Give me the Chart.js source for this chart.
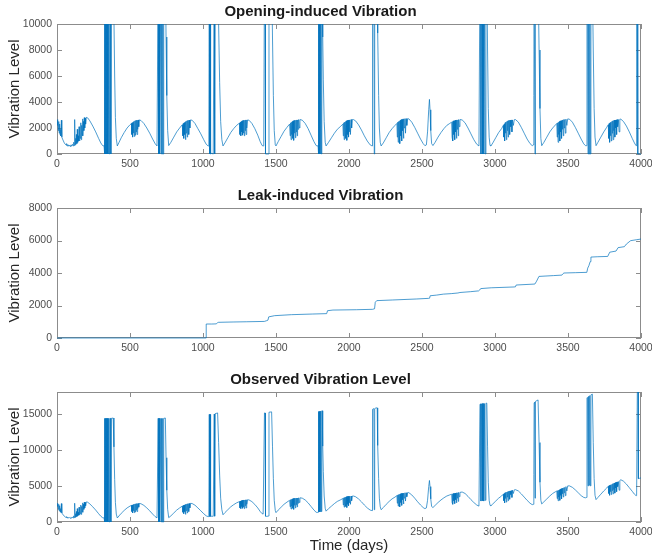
<!DOCTYPE html>
<html>
<head>
<meta charset="utf-8">
<script src="https://cdn.jsdelivr.net/npm/chart.js@4.4.1/dist/chart.umd.min.js"></script>
<style>
  body { margin: 0; background: #fff; }
  #wrap { position: relative; width: 652px; height: 556px; overflow: hidden; }
  .box { position: absolute; left: 0; width: 652px; }
</style>
</head>
<body>
<div id="wrap">
  <div class="box" style="top:0px;height:176px"><canvas id="c1"></canvas></div>
  <div class="box" style="top:184px;height:176px"><canvas id="c2"></canvas></div>
  <div class="box" style="top:368px;height:188px"><canvas id="c3"></canvas></div>
</div>
<script>
// tick labels
const dayTicks = [0,500,1000,1500,2000,2500,3000,3500,4000];
const openingTicks = [0,2000,4000,6000,8000,10000];
const leakTicks = [0,2000,4000,6000,8000];
const observedTicks = [0,5000,10000,15000];

// [day, vibration level]
const openingData = [
  [0,2550],[3,2200],[6,2650],[9,1800],[12,2500],[15,1600],[18,2300],[21,1500],[24,1900],[27,1400],[30,2600],[33,1300],
  [38,1150],[44,1000],[50,850],[56,760],[62,680],[66,800],[70,620],[75,720],[80,600],[85,680],[90,580],[95,700],[100,600],
  [105,750],[110,620],[114,900],[118,650],[121,2650],[124,700],[127,1200],[130,750],[133,1500],[136,800],[139,1900],[142,900],
  [145,1400],[148,1000],[151,2100],[154,1000],[157,1700],[160,1200],[163,2400],[166,1100],[169,2200],[172,1500],[175,2700],
  [178,1400],[181,2500],[184,1800],[187,2800],[190,2000],[193,2750],[196,2300],[200,2820],[210,2780],[225,2550],[245,2150],
  [265,1700],[285,1200],[300,850],[312,650],[320,620],
  [322,650],[325,14400],[328,0],[331,14400],[334,0],[338,14400],[341,0],[344,14400],[347,0],[350,14400],[353,0],[356,14400],
  [359,0],[362,14400],[366,14400],[369,0],[372,14400],[385,14400],[390,10500],[395,6000],[400,2800],[406,1200],[413,620],
  [425,900],[440,1250],[460,1650],[480,2000],[500,2250],[510,2350],[512,1500],[515,2400],[518,1300],[521,2450],[524,1600],
  [527,2500],[530,1350],[533,2550],[536,1450],[539,2580],[542,1700],[545,2600],[548,1500],[551,2600],[554,1900],[557,2620],
  [560,2100],[563,2620],[575,2580],[595,2350],[615,2000],[635,1600],[655,1150],[672,800],[685,620],
  [690,620],[693,14400],[696,0],[700,14400],[703,0],[707,14400],[710,14400],[713,0],[716,14400],[720,0],[724,14400],[727,0],
  [731,14400],[742,14400],[747,9000],[752,4500],[758,1800],[765,650],
  [780,900],[800,1300],[820,1700],[840,2000],[858,2250],[862,1400],[865,2350],[868,1200],[871,2400],[874,1500],[877,2450],
  [880,1100],[883,2500],[886,1600],[889,2550],[892,1300],[895,2580],[898,1800],[901,2600],[904,1500],[907,2600],[910,2000],
  [914,2620],[925,2600],[945,2350],[965,1950],[985,1550],[1005,1100],[1022,750],[1035,620],
  [1040,640],[1043,14100],[1046,0],[1049,14100],[1052,0],[1060,50],[1070,0],[1077,14100],[1080,0],[1083,14100],[1100,14200],
  [1107,10000],[1114,5500],[1121,2500],[1129,1100],[1137,620],
  [1150,850],[1170,1250],[1190,1650],[1210,1950],[1230,2200],[1250,2380],[1253,1500],[1256,2450],[1259,1400],[1262,2500],
  [1265,1700],[1268,2550],[1271,1450],[1274,2580],[1277,1600],[1280,2600],[1283,1400],[1286,2600],[1289,1800],[1292,2620],
  [1295,1500],[1298,2620],[1301,2000],[1305,2620],[1315,2600],[1335,2350],[1355,1950],[1375,1450],[1392,950],[1405,650],[1412,620],
  [1416,640],[1421,13900],[1425,13900],[1428,0],[1438,0],[1447,0],[1452,13900],[1470,14000],[1476,9000],[1482,4500],
  [1488,1800],[1495,700],[1500,620],
  [1515,950],[1535,1350],[1555,1750],[1575,2050],[1593,2300],[1597,1400],[1600,2400],[1603,1100],[1606,2450],[1609,1500],
  [1612,2500],[1615,1200],[1618,2550],[1621,1050],[1624,2580],[1627,1600],[1630,2600],[1633,1250],[1636,2600],[1639,1700],
  [1642,2620],[1645,1400],[1648,2620],[1651,1900],[1655,2650],[1660,2000],[1664,2650],[1680,2600],[1700,2350],[1720,1950],
  [1740,1450],[1760,950],[1775,650],[1782,620],
  [1788,640],[1790,13800],[1793,0],[1796,13800],[1799,0],[1802,13800],[1805,0],[1808,13800],[1811,0],[1814,13800],[1817,13800],
  [1820,9000],[1824,5700],[1830,2500],[1837,900],[1843,620],
  [1860,900],[1880,1250],[1900,1600],[1920,1900],[1940,2100],[1958,2300],[1961,1400],[1964,2400],[1967,1100],[1970,2450],
  [1973,1600],[1976,2500],[1979,1200],[1982,2550],[1985,1050],[1988,2580],[1991,1500],[1994,2600],[1997,1300],[2000,2620],
  [2003,1700],[2006,2620],[2010,1500],[2014,2650],[2018,2000],[2023,2650],[2030,2650],[2045,2550],[2065,2250],[2085,1850],
  [2105,1400],[2125,1000],[2145,700],[2158,620],
  [2160,620],[2162,13400],[2170,13400],[2173,0],[2176,13400],[2185,13500],[2193,13500],[2195,9400],[2198,9300],[2203,4500],
  [2208,2000],[2214,900],[2220,620],
  [2235,850],[2255,1250],[2275,1650],[2295,1950],[2315,2200],[2328,2350],[2331,1300],[2334,2450],[2337,900],[2340,2500],
  [2343,1500],[2346,2550],[2349,800],[2352,2600],[2355,1400],[2358,2650],[2361,1000],[2364,2650],[2367,1800],[2370,2700],
  [2373,1200],[2376,2700],[2379,2000],[2383,2720],[2387,1600],[2391,2720],[2396,2200],[2402,2720],[2410,2700],[2430,2450],
  [2450,2050],[2470,1600],[2490,1150],[2508,800],[2520,640],[2530,700],[2538,1700],[2546,3400],[2551,4200],[2555,3400],
  [2560,1800],[2566,800],[2575,650],
  [2590,900],[2610,1300],[2630,1650],[2650,1950],[2670,2200],[2690,2350],[2703,2450],[2706,1300],[2709,2500],[2712,1000],
  [2715,2550],[2718,1500],[2721,2550],[2724,1100],[2727,2600],[2730,1700],[2733,2600],[2736,1200],[2739,2620],[2742,1900],
  [2745,2620],[2748,1400],[2751,2650],[2755,2100],[2760,2650],[2775,2620],[2795,2400],[2815,2000],[2835,1550],[2855,1100],
  [2875,750],[2890,620],
  [2897,14000],[2901,14000],[2904,0],[2908,14000],[2912,14000],[2915,0],[2919,14000],[2923,0],[2927,14000],[2931,14000],
  [2934,0],[2938,14000],[2944,14000],[2949,8000],[2954,3500],[2960,1300],[2966,650],[2972,620],
  [2985,850],[3005,1250],[3025,1650],[3045,1950],[3057,2200],[3060,1300],[3063,2300],[3066,1000],[3069,2400],[3072,1600],
  [3075,2450],[3078,1100],[3081,2500],[3084,1800],[3087,2550],[3090,1300],[3093,2580],[3096,2000],[3099,2600],[3102,1500],
  [3105,2600],[3108,2100],[3112,2620],[3116,1700],[3120,2620],[3126,2200],[3132,2640],[3140,2650],[3160,2450],[3180,2050],
  [3200,1600],[3220,1150],[3240,800],[3255,640],
  [3262,700],[3266,4500],[3268,13500],[3272,13500],[3274,0],[3277,13600],[3295,13600],[3302,8000],[3308,3500],[3314,1200],[3320,640],
  [3335,900],[3355,1300],[3375,1700],[3395,2000],[3415,2250],[3423,2350],[3426,1300],[3429,2400],[3432,900],[3435,2450],
  [3438,1500],[3441,2500],[3444,1000],[3447,2550],[3450,1700],[3453,2550],[3456,1200],[3459,2600],[3462,1900],[3465,2620],
  [3468,1400],[3471,2650],[3474,2000],[3478,2650],[3482,1600],[3486,2680],[3492,2200],[3498,2700],[3510,2680],[3530,2450],
  [3550,2050],[3570,1600],[3590,1150],[3608,780],[3620,640],
  [3627,640],[3630,13300],[3634,13300],[3637,0],[3641,13300],[3645,0],[3649,13300],[3653,0],[3657,13300],[3667,13300],
  [3673,8000],[3679,3500],[3685,1300],[3692,640],
  [3705,900],[3725,1300],[3745,1700],[3765,2050],[3776,2250],[3779,1200],[3782,2350],[3785,900],[3788,2400],[3791,1400],
  [3794,2450],[3797,1000],[3800,2500],[3803,1600],[3806,2550],[3809,1100],[3812,2580],[3815,1800],[3818,2600],[3821,1300],
  [3824,2600],[3827,2000],[3830,2620],[3833,1500],[3836,2650],[3840,2100],[3845,2650],[3850,1700],[3855,2680],[3862,2680],
  [3880,2500],[3900,2150],[3920,1700],[3940,1200],[3955,850],[3966,640],
  [3970,13000],[3975,13000],[3978,0],[3990,0],[4000,0]
];

const leakData = [
  [0,0],[1021,0],[1022,860],[1060,860],[1092,870],[1100,950],[1106,965],[1206,985],[1300,1000],[1420,1020],[1434,1060],
  [1445,1100],[1450,1300],[1491,1375],[1605,1435],[1748,1475],[1847,1500],[1853,1680],[1890,1720],[2050,1740],[2161,1765],
  [2175,1800],[2180,2200],[2190,2300],[2300,2340],[2460,2400],[2546,2440],[2552,2450],[2556,2600],[2600,2640],[2646,2700],
  [2700,2730],[2746,2770],[2760,2800],[2831,2850],[2888,2900],[2895,2950],[2902,3040],[2974,3090],[3130,3140],[3140,3150],
  [3145,3260],[3273,3320],[3285,3500],[3301,3790],[3400,3840],[3458,3870],[3465,3950],[3472,4000],[3550,4020],[3629,4040],
  [3635,4300],[3643,4450],[3652,4700],[3657,4980],[3700,5000],[3772,5020],[3786,5280],[3829,5350],[3843,5560],[3886,5620],
  [3900,5780],[3929,5990],[3971,6050],[4000,6090]
];

const observedData = [
  [0,2500],[3,2150],[6,2600],[9,1750],[12,2450],[15,1550],[18,2250],[21,1450],[24,1850],[27,1350],[30,2550],[33,1250],
  [38,1100],[44,950],[50,800],[56,700],[62,620],[66,750],[70,560],[75,660],[80,540],[85,620],[90,520],[95,640],[100,540],
  [105,700],[110,560],[114,850],[118,600],[121,2600],[124,650],[127,1150],[130,700],[133,1450],[136,750],[139,1850],[142,850],
  [145,1350],[148,950],[151,2050],[154,950],[157,1650],[160,1150],[163,2350],[166,1050],[169,2150],[172,1450],[175,2650],
  [178,1350],[181,2450],[184,1750],[187,2750],[190,1950],[193,2700],[196,2250],[200,2780],[210,2740],[225,2500],[245,2100],
  [265,1650],[285,1150],[300,800],[312,600],[320,560],
  [322,600],[325,14350],[328,0],[331,14350],[334,0],[338,14350],[341,0],[344,14350],[347,0],[350,14350],[353,0],[356,14350],
  [359,0],[362,14350],[366,14350],[369,0],[372,14350],[385,14400],[390,10400],[395,5900],[400,2700],[406,1100],[413,560],
  [425,850],[440,1200],[460,1600],[480,1950],[500,2200],[510,2300],[512,1450],[515,2350],[518,1250],[521,2400],[524,1550],
  [527,2450],[530,1300],[533,2500],[536,1400],[539,2520],[542,1650],[545,2550],[548,1450],[551,2550],[554,1850],[557,2560],
  [560,2050],[563,2570],[575,2530],[595,2300],[615,1950],[635,1550],[655,1100],[672,750],[685,570],
  [690,570],[693,14350],[696,0],[700,14350],[703,0],[707,14350],[710,14350],[713,0],[716,14350],[720,0],[724,14350],[727,0],
  [731,14350],[742,14400],[747,8900],[752,4400],[758,1750],[765,600],
  [780,850],[800,1250],[820,1650],[840,1950],[858,2200],[862,1350],[865,2300],[868,1150],[871,2350],[874,1450],[877,2400],
  [880,1050],[883,2450],[886,1550],[889,2500],[892,1250],[895,2530],[898,1750],[901,2550],[904,1450],[907,2560],[910,1950],
  [914,2580],[925,2560],[945,2330],[965,1950],[985,1550],[1005,1150],[1022,850],[1035,750],
  [1040,760],[1043,14900],[1046,760],[1049,14900],[1052,780],[1060,800],[1070,790],[1077,14950],[1080,800],[1083,15000],
  [1100,15100],[1107,11000],[1114,6500],[1121,3300],[1129,1700],[1137,1000],
  [1150,1300],[1170,1700],[1190,2100],[1210,2400],[1230,2650],[1250,2830],[1253,1950],[1256,2900],[1259,1850],[1262,2950],
  [1265,2150],[1268,3000],[1271,1900],[1274,3030],[1277,2050],[1280,3050],[1283,1850],[1286,3050],[1289,2250],[1292,3070],
  [1295,1950],[1298,3080],[1301,2450],[1305,3080],[1315,3060],[1335,2820],[1355,2430],[1375,1950],[1392,1450],[1405,1150],[1412,1100],
  [1416,1100],[1421,15100],[1425,15100],[1428,800],[1438,780],[1447,820],[1452,15200],[1470,15250],[1476,10500],[1482,6000],
  [1488,3000],[1495,1600],[1500,1300],
  [1515,1650],[1535,2050],[1555,2450],[1575,2750],[1593,3000],[1597,2100],[1600,3100],[1603,1800],[1606,3150],[1609,2200],
  [1612,3200],[1615,1900],[1618,3250],[1621,1750],[1624,3280],[1627,2300],[1630,3300],[1633,1950],[1636,3300],[1639,2400],
  [1642,3320],[1645,2100],[1648,3320],[1651,2600],[1655,3350],[1660,2700],[1664,3350],[1680,3300],[1700,3050],[1720,2650],
  [1740,2150],[1760,1650],[1775,1350],[1782,1320],
  [1788,1350],[1790,15300],[1793,1400],[1796,15300],[1799,1400],[1802,15350],[1805,1400],[1808,15350],[1811,1450],[1814,15400],
  [1817,15400],[1820,10500],[1824,7000],[1830,3600],[1837,1900],[1843,1500],
  [1860,1850],[1880,2200],[1900,2550],[1920,2850],[1940,3050],[1958,3250],[1961,2350],[1964,3350],[1967,2050],[1970,3400],
  [1973,2550],[1976,3450],[1979,2150],[1982,3500],[1985,2000],[1988,3530],[1991,2450],[1994,3550],[1997,2250],[2000,3570],
  [2003,2650],[2006,3570],[2010,2450],[2014,3600],[2018,2950],[2023,3600],[2030,3600],[2045,3500],[2065,3200],[2085,2800],
  [2105,2350],[2125,1950],[2145,1650],[2158,1580],
  [2160,1580],[2162,15600],[2170,15700],[2173,1700],[2176,15700],[2185,15800],[2193,15800],[2195,10600],[2198,10600],
  [2203,6000],[2208,3300],[2214,2100],[2220,1700],
  [2235,2000],[2255,2450],[2275,2850],[2295,3200],[2315,3450],[2328,3650],[2331,2600],[2334,3750],[2337,2200],[2340,3800],
  [2343,2800],[2346,3850],[2349,2100],[2352,3900],[2355,2700],[2358,3950],[2361,2300],[2364,3950],[2367,3100],[2370,4000],
  [2373,2500],[2376,4000],[2379,3300],[2383,4050],[2387,2900],[2391,4050],[2396,3500],[2402,4080],[2410,4060],[2430,3750],
  [2450,3300],[2470,2800],[2490,2350],[2508,2000],[2520,1850],[2530,1950],[2538,3000],[2546,4900],[2551,5750],[2555,4900],
  [2560,3200],[2566,2150],[2575,2000],
  [2590,2300],[2610,2700],[2630,3050],[2650,3350],[2670,3600],[2690,3750],[2703,3850],[2706,2700],[2709,3900],[2712,2450],
  [2715,3950],[2718,2950],[2721,3950],[2724,2550],[2727,4000],[2730,3100],[2733,4000],[2736,2650],[2739,4050],[2742,3300],
  [2745,4050],[2748,2850],[2751,4100],[2755,3500],[2760,4100],[2775,4150],[2795,3950],[2815,3550],[2835,3100],[2855,2700],
  [2875,2350],[2890,2200],
  [2897,16300],[2901,16350],[2904,2900],[2908,16350],[2912,16400],[2915,2950],[2919,16400],[2923,2900],[2927,16400],
  [2931,16400],[2934,3000],[2938,16450],[2944,16450],[2949,10500],[2954,5500],[2960,3000],[2966,2300],[2972,2250],
  [2985,2500],[3005,2900],[3025,3300],[3045,3600],[3057,3850],[3060,2950],[3063,3950],[3066,2650],[3069,4050],[3072,3250],
  [3075,4100],[3078,2750],[3081,4150],[3084,3450],[3087,4200],[3090,2950],[3093,4250],[3096,3650],[3099,4300],[3102,3150],
  [3105,4300],[3108,3800],[3112,4350],[3116,3400],[3120,4400],[3126,3950],[3132,4450],[3140,4480],[3160,4300],[3180,3900],
  [3200,3450],[3220,3000],[3240,2600],[3255,2400],
  [3262,2450],[3266,6600],[3268,16500],[3272,16600],[3274,3300],[3277,16700],[3295,16900],[3302,11000],[3308,5500],
  [3314,3000],[3320,2500],
  [3335,2800],[3355,3200],[3375,3600],[3395,3950],[3415,4200],[3423,4300],[3426,3250],[3429,4350],[3432,2950],[3435,4400],
  [3438,3450],[3441,4450],[3444,3000],[3447,4550],[3450,3700],[3453,4600],[3456,3200],[3459,4650],[3462,3900],[3465,4700],
  [3468,3450],[3471,4750],[3474,4050],[3478,4800],[3482,3650],[3486,4900],[3492,4300],[3498,5000],[3510,5000],[3530,4800],
  [3550,4450],[3570,4050],[3590,3650],[3608,3400],[3620,3350],
  [3627,3400],[3630,17200],[3634,17250],[3637,5000],[3641,17400],[3645,5100],[3649,17500],[3653,5000],[3657,17600],
  [3667,17700],[3673,11000],[3679,6000],[3685,3700],[3692,3100],
  [3705,3400],[3725,3850],[3745,4300],[3765,4700],[3776,4950],[3779,3950],[3782,5050],[3785,3700],[3788,5100],[3791,4200],
  [3794,5150],[3797,3800],[3800,5200],[3803,4350],[3806,5300],[3809,3900],[3812,5350],[3815,4500],[3818,5400],[3821,4000],
  [3824,5450],[3827,4700],[3830,5500],[3833,4200],[3836,5550],[3840,4900],[3845,5600],[3850,4400],[3855,5750],[3862,5850],
  [3880,5650],[3900,5250],[3920,4750],[3940,4250],[3955,3850],[3966,3650],
  [3970,3700],[3975,19000],[3980,19000],[3982,6000],[3990,6050],[4000,6100]
];

Chart.defaults.font.family = '"Liberation Sans", Arial, sans-serif';
Chart.defaults.color = '#4d4d4d';

// MATLAB-like frame with inward ticks on all four sides, drawn under the data
const framePlugin = {
  id: 'frame',
  beforeDatasetsDraw(chart) {
    const { ctx, chartArea: a, scales: { x, y } } = chart;
    ctx.save();
    ctx.strokeStyle = '#8c8c8c';
    ctx.lineWidth = 1;
    ctx.strokeRect(a.left + 0.5, a.top + 0.5, a.right - a.left - 1, a.bottom - a.top - 1);
    ctx.beginPath();
    x.ticks.forEach(t => {
      const px = Math.round(x.getPixelForValue(t.value)) + 0.5;
      ctx.moveTo(px, a.bottom); ctx.lineTo(px, a.bottom - 5);
      ctx.moveTo(px, a.top); ctx.lineTo(px, a.top + 5);
    });
    y.ticks.forEach(t => {
      const py = Math.round(y.getPixelForValue(t.value)) + 0.5;
      ctx.moveTo(a.left, py); ctx.lineTo(a.left + 5, py);
      ctx.moveTo(a.right, py); ctx.lineTo(a.right - 5, py);
    });
    ctx.stroke();
    ctx.restore();
  }
};

function makeChart(id, title, data, yMax, yTicks, xTitle, xHeight) {
  return new Chart(document.getElementById(id), {
    type: 'line',
    data: {
      datasets: [{
        data: data,
        borderColor: '#0072BD',
        borderWidth: 0.7,
        pointRadius: 0,
        tension: 0,
        clip: { left: 0, top: 0, right: 0, bottom: 2 }
      }]
    },
    plugins: [framePlugin],
    options: {
      responsive: true,
      maintainAspectRatio: false,
      animation: false,
      events: [],
      layout: { padding: { left: 0, right: 11, top: 0, bottom: 0 } },
      plugins: {
        legend: { display: false },
        tooltip: { enabled: false },
        title: {
          display: true,
          text: title,
          color: '#1a1a1a',
          font: { size: 15, weight: 'bold' },
          padding: { top: 3, bottom: 3 }
        }
      },
      scales: {
        x: {
          type: 'linear',
          min: 0, max: 4000,
          grid: { display: false, drawTicks: false },
          border: { display: false },
          afterBuildTicks: s => { s.ticks = dayTicks.map(v => ({ value: v })); },
          afterFit: s => { s.height = xHeight; s.paddingLeft = 0; s.paddingRight = 0; },
          ticks: { padding: 4, maxRotation: 0, autoSkip: false, font: { size: 10.5 }, color: '#4d4d4d',
                   callback: v => String(v) },
          title: { display: !!xTitle, text: xTitle || '', color: '#262626', font: { size: 15 }, padding: { top: 0, bottom: 1 } }
        },
        y: {
          min: 0, max: yMax,
          grid: { display: false, drawTicks: false },
          border: { display: false },
          afterBuildTicks: s => { s.ticks = yTicks.map(v => ({ value: v })); },
          afterFit: s => { s.width = 57; s.paddingTop = 0; s.paddingBottom = 0; },
          ticks: { padding: 5, font: { size: 10.5 }, color: '#4d4d4d', callback: v => String(v) },
          title: { display: true, text: 'Vibration Level', color: '#262626', font: { size: 15 }, padding: { top: 6, bottom: 0 } }
        }
      }
    }
  });
}

makeChart('c1', 'Opening-induced Vibration', openingData, 10000, openingTicks, null, 22);
makeChart('c2', 'Leak-induced Vibration', leakData, 8000, leakTicks, null, 22);
makeChart('c3', 'Observed Vibration Level', observedData, 18000, observedTicks, 'Time (days)', 34);
</script>
</body>
</html>
